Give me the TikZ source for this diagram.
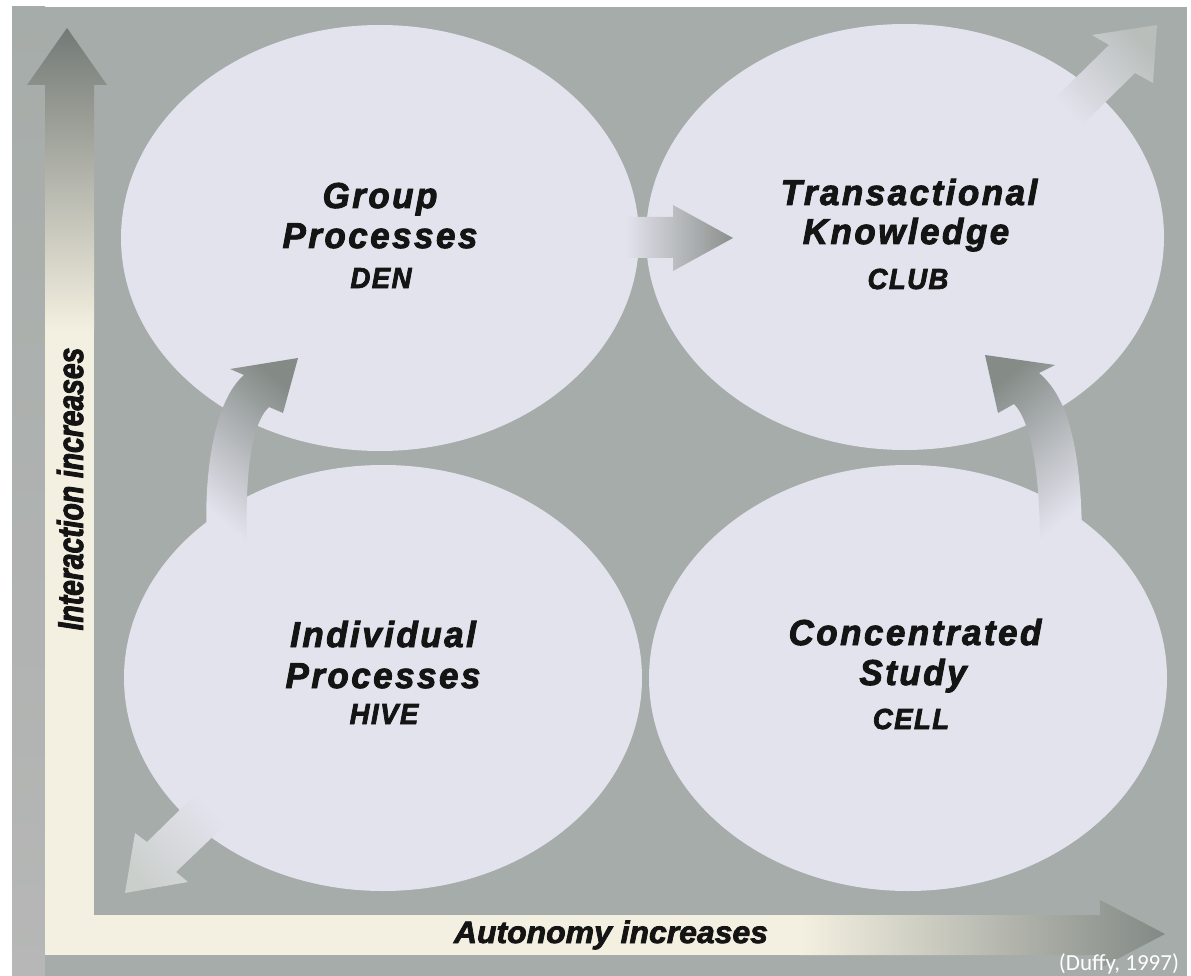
\documentclass[tikz,border=0pt]{standalone}
\usepackage{fontspec}
\setmainfont{Liberation Sans}
\newfontfamily\duffyfont{Carlito}
\usetikzlibrary{shapes.geometric}
\definecolor{bgtex}{HTML}{A6ACA9}
\definecolor{strip}{HTML}{B6B7B6}
\definecolor{cream}{HTML}{F4F0E1}
\definecolor{ell}{HTML}{E3E3ED}
\definecolor{dk}{HTML}{737A76}
\definecolor{mg}{HTML}{959B98}
\definecolor{tipA}{HTML}{8A908C}
\definecolor{tipB}{HTML}{B9BEBB}
\definecolor{tipC}{HTML}{848B87}
\definecolor{midC}{HTML}{D6D9D9}
\definecolor{tipD}{HTML}{858C88}
\definecolor{tipE}{HTML}{CBCFCC}
\definecolor{ink}{HTML}{141414}
\begin{document}
\begin{tikzpicture}[x=1pt,y=-1pt,
  blob/.style={ellipse, fill=ell, inner sep=0pt, minimum width=518pt, minimum height=426pt},
  big/.style={font=\fontsize{36}{40}\selectfont\bfseries\itshape\addfontfeature{FakeBold=2.5,FakeStretch=0.97,LetterSpace=7}, text=ink, inner sep=0pt, anchor=base},
  small/.style={font=\fontsize{29}{32}\selectfont\bfseries\itshape\addfontfeature{FakeBold=2.5,FakeStretch=0.95,LetterSpace=5}, text=ink, inner sep=0pt, anchor=base},
  axv/.style={font=\fontsize{36}{40}\selectfont\bfseries\itshape\addfontfeature{FakeBold=2.5,FakeStretch=0.785}, text=ink, inner sep=0pt, anchor=base},
  axh/.style={font=\fontsize{31}{34}\selectfont\bfseries\itshape\addfontfeature{FakeBold=2.5,FakeStretch=1.03}, text=ink, inner sep=0pt, anchor=base}]
\useasboundingbox (0,0) rectangle (1191,976);
\fill[white] (0,0) rectangle (1191,976);
\fill[bgtex] (12,7) rectangle (1187,976);
\shade[top color=bgtex, bottom color=strip] (12,7) rectangle (45,976);
% vertical axis arrow
\fill[cream] (45,330) rectangle (94,955);
\shade[top color=dk, middle color=mg, bottom color=cream] (45,331) -- (45,85) -- (27,85) -- (67,28) -- (107,85) -- (94,85) -- (94,331) -- cycle;
% horizontal axis arrow
\fill[cream] (45,915) rectangle (801,955);
\shade[left color=cream, right color=dk!70!bgtex] (800,915) -- (1100,915) -- (1100,900) -- (1165,934) -- (1100,968) -- (1100,955) -- (800,955) -- cycle;
% ellipses
\node[blob] (den) at (380,238) {};
\node[blob] (club) at (905,237) {};
\node[blob] (hive) at (383,678) {};
\node[blob] (cell) at (908,678) {};
% block arrows
\shade[top color=tipA, middle color=ell!75!tipA, bottom color=ell, shading angle=-90] (625,217) -- (673,217) -- (673,205) -- (733,238) -- (673,271) -- (673,258) -- (625,258) -- cycle;
\shade[top color=tipB, bottom color=ell, shading angle=-46] (1052,101) -- (1109,45) -- (1092,35) -- (1157,25) -- (1153,83) -- (1135,73) -- (1078,129) -- cycle;
\shade[top color=tipC, middle color=midC, bottom color=ell, shading angle=-40] (207,545) .. controls (203,470) and (215,400) .. (244,375) -- (230,369) -- (298,358) -- (283,413) -- (269,407) .. controls (250,425) and (245,480) .. (247,545) -- cycle;
\shade[top color=tipD, middle color=midC, bottom color=ell, shading angle=40] (1040,545) .. controls (1040,470) and (1030,420) .. (1014,404) -- (998,413) -- (985,355) -- (1055,365) -- (1039,373) .. controls (1065,395) and (1082,440) .. (1082,545) -- cycle;
\shade[top color=tipE, middle color=ell, bottom color=ell, shading angle=135] (197,793) -- (147,842) -- (135,833) -- (125,893) -- (188,882) -- (176,872) -- (226,824) -- cycle;
% labels
\node[big] (g1) at (380,208) {Group};
\node[big] (g2) at (380,248) {Processes};
\node[small] (g3) at (381,288) {DEN};
\node[big] (t1) at (909,205) {Transactional};
\node[big] (t2) at (906,244) {Knowledge};
\node[small] (t3) at (908,289) {CLUB};
\node[big] (i1) at (383,647) {Individual};
\node[big] (i2) at (383,688) {Processes};
\node[small] (i3) at (384,724) {HIVE};
\node[big] (c1) at (915,645) {Concentrated};
\node[big] (c2) at (913,685) {Study};
\node[small] (c3) at (911,729) {CELL};
\node[axv, rotate=90] (ia) at (83,489) {Interaction increases};
\node[axh] (au) at (611,943) {Autonomy increases};
\node[font=\duffyfont\fontsize{23}{26}\selectfont, text=white, inner sep=0pt, anchor=base] (src) at (1119,970) {(Duffy, 1997)};
\end{tikzpicture}
\end{document}
